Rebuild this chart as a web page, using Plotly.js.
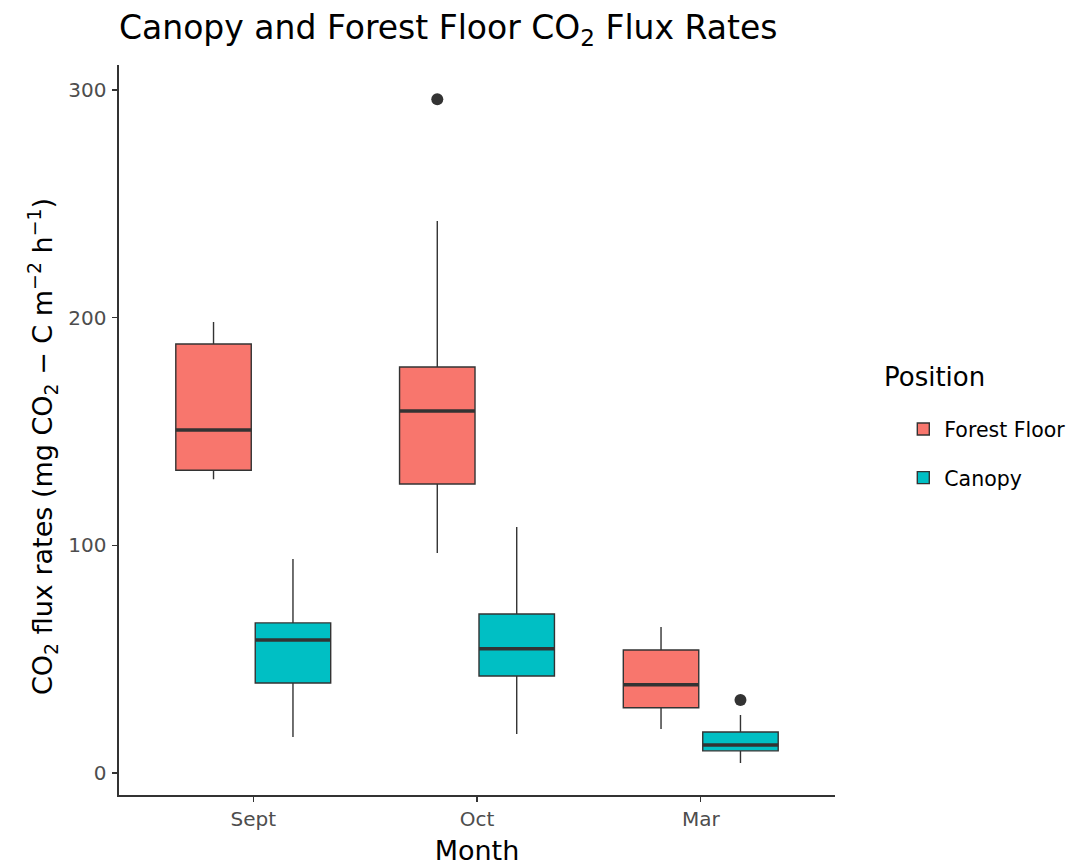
<!DOCTYPE html>
<html>
<head>
<meta charset="utf-8">
<script src="https://cdn.plot.ly/plotly-3.0.1.min.js"></script>
<style>html,body{margin:0;padding:0;background:#fff;}#chart{width:1082px;height:866px;}</style>
</head>
<body>
<div id="chart"></div>
<script>
// ---- data ----
var months = ["Sept", "Oct", "Mar"];
var seriesNames = ["Forest Floor", "Canopy"];
var seriesColors = ["#F8766D", "#00BFC4"];

var ffLower  = [129, 96.6, 19.3];
var ffQ1     = [133, 126.9, 28.6];
var ffMedian = [150.7, 159, 38.7];
var ffQ3     = [188.4, 178.3, 54];
var ffUpper  = [198.1, 242.5, 64.1];
var ffOutlierMonth = ["Oct"];
var ffOutlierValue = [296];

var caLower  = [15.8, 17.1, 4.4];
var caQ1     = [39.5, 42.6, 9.7];
var caMedian = [58.4, 54.5, 12.3];
var caQ3     = [65.9, 69.8, 18];
var caUpper  = [94, 108, 25.5];
var caOutlierMonth = ["Mar"];
var caOutlierValue = [32];

var yTicks = [0, 100, 200, 300];
var legendTitle = "Position";
var yTitle = "CO<sub>2</sub> flux rates (mg CO<sub>2</sub> \u2212 C m<sup>\u22122</sup> h<sup>\u22121</sup>)";

// ---- geometry ----
var boxgap = 0.29, boxgroupgap = 0.05;
var slot = (1 - boxgap) / 2;
var halfW = slot * (1 - boxgroupgap) / 2;
var offsets = [-slot / 2, slot / 2];
var xRange = [-0.6, 2.6];
var lineCol = "#333333";

function boxTrace(k, lo, q1, med, q3, up) {
  return {
    type: "box", name: seriesNames[k], x: months,
    lowerfence: lo, q1: q1, median: med, q3: q3, upperfence: up,
    fillcolor: seriesColors[k], line: {color: lineCol, width: 1.4},
    whiskerwidth: 0, boxpoints: false, hoverinfo: "y",
    legendgroup: "g" + k
  };
}
function medianTrace(k, med) {
  var xs = [], ys = [];
  for (var i = 0; i < months.length; i++) {
    var c = i + offsets[k];
    xs.push(c - halfW, c + halfW, null);
    ys.push(med[i], med[i], null);
  }
  return {type: "scatter", mode: "lines", x: xs, y: ys, xaxis: "x2",
    line: {color: lineCol, width: 3.5}, showlegend: false, hoverinfo: "skip"};
}
function outlierTrace(k, mon, val) {
  var xs = mon.map(function (m) { return months.indexOf(m) + offsets[k]; });
  return {type: "scatter", mode: "markers", x: xs, y: val, xaxis: "x2",
    marker: {color: lineCol, size: 12}, showlegend: false, hoverinfo: "y"};
}

var traces = [
  boxTrace(0, ffLower, ffQ1, ffMedian, ffQ3, ffUpper),
  boxTrace(1, caLower, caQ1, caMedian, caQ3, caUpper),
  medianTrace(0, ffMedian), medianTrace(1, caMedian),
  outlierTrace(0, ffOutlierMonth, ffOutlierValue),
  outlierTrace(1, caOutlierMonth, caOutlierValue)
];

var font = "DejaVu Sans, Liberation Sans, Arial, sans-serif";
var layout = {
  width: 1082, height: 866,
  margin: {l: 119, r: 247, t: 65, b: 71},
  paper_bgcolor: "#fff", plot_bgcolor: "#fff",
  font: {family: font, color: "#000"},
  title: {text: "Canopy and Forest Floor CO<sub>2</sub> Flux Rates", font: {size: 33, color: "#000"},
    x: 0, xref: "paper", xanchor: "left", y: 0.968, yanchor: "middle"},
  boxmode: "group", boxgap: boxgap, boxgroupgap: boxgroupgap,
  xaxis: {
    type: "category", categoryorder: "array", categoryarray: months, range: xRange,
    showline: true, linecolor: lineCol, linewidth: 1.6, showgrid: false, zeroline: false,
    ticks: "outside", ticklen: 5, tickcolor: lineCol, tickwidth: 1.3,
    tickfont: {size: 20, color: "#4D4D4D"},
    title: {text: "Month", font: {size: 27, color: "#000"}, standoff: 12}
  },
  xaxis2: {overlaying: "x", range: xRange, visible: false, showgrid: false, zeroline: false},
  yaxis: {
    range: [-9.7, 311], tickvals: yTicks,
    showline: true, linecolor: lineCol, linewidth: 1.6, showgrid: false, zeroline: false,
    ticks: "outside", ticklen: 5, tickcolor: lineCol, tickwidth: 1.3, ticklabelstandoff: 2,
    tickfont: {size: 20, color: "#4D4D4D"}
  },
  annotations: [{
    text: legendTitle, xref: "paper", yref: "paper", x: 1.066, y: 0.5726,
    xanchor: "left", yanchor: "middle", showarrow: false,
    font: {size: 26, color: "#000"}
  }, {
    text: yTitle, xref: "paper", yref: "paper", x: 0, y: 0.4767, xshift: -77,
    xanchor: "center", yanchor: "middle", textangle: -90, showarrow: false,
    font: {size: 27, color: "#000"}
  }],
  legend: {
    x: 1.094, xanchor: "left", y: 0.5285, yanchor: "top",
    font: {size: 20.5, color: "#000"}, tracegroupgap: 19, traceorder: "grouped",
    itemwidth: 32, bgcolor: "rgba(0,0,0,0)"
  },
  showlegend: true
};

Plotly.newPlot("chart", traces, layout, {displayModeBar: false, staticPlot: true});
</script>
</body>
</html>
